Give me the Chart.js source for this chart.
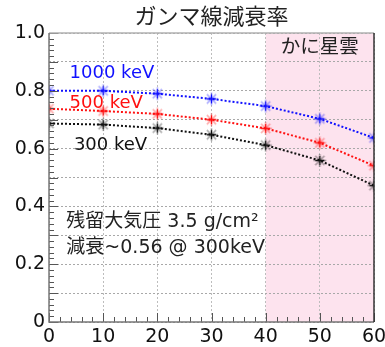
<!DOCTYPE html>
<html>
<head>
<meta charset="utf-8">
<script src="https://cdn.jsdelivr.net/npm/chart.js@4/dist/chart.umd.min.js"></script>
<style>
  html, body { margin: 0; padding: 0; background: #fff; }
  #wrap { width: 385px; height: 347px; }
</style>
</head>
<body>
<div id="wrap"><canvas id="c" width="385" height="347"></canvas></div>
<script>
// Residual-atmosphere depth along x and transmitted fraction per energy
const depths = [0, 10, 20, 30, 40, 50, 60];
const t1000 = [0.800, 0.800, 0.790, 0.772, 0.747, 0.703, 0.637];
const t500  = [0.738, 0.730, 0.720, 0.700, 0.670, 0.620, 0.541];
const t300  = [0.687, 0.683, 0.671, 0.648, 0.612, 0.559, 0.472];
const seriesLabels = ['1000 keV', '500 keV', '300 keV'];
const seriesColors = ['#1010ff', '#ff1010', '#111111'];
const bandRange = [40, 60];
const bandLabel = 'かに星雲';
const titleText = 'ガンマ線減衰率';
const noteLines = ['残留大気圧 3.5 g/cm²', '減衰~0.56 @ 300keV'];

const FONT = '"DejaVu Sans", "Noto Sans CJK JP", sans-serif';

function markerImage(color) {
  const c = document.createElement('canvas');
  c.width = 15; c.height = 15;
  const g = c.getContext('2d');
  g.translate(7.5, 7.5);
  g.strokeStyle = color;
  g.globalAlpha = 0.35;
  g.lineWidth = 1.6;
  for (let i = 0; i < 4; i++) {
    const a = i * Math.PI / 4;
    g.beginPath();
    g.moveTo(-6.5 * Math.cos(a), -6.5 * Math.sin(a));
    g.lineTo(6.5 * Math.cos(a), 6.5 * Math.sin(a));
    g.stroke();
  }
  g.globalAlpha = 1;
  g.lineWidth = 1.3;
  g.beginPath();
  g.moveTo(-4.5, 0); g.lineTo(4.5, 0);
  g.moveTo(0, -4.5); g.lineTo(0, 4.5);
  g.stroke();
  return c;
}

function makeSet(values, i) {
  return {
    label: seriesLabels[i],
    data: depths.map((x, k) => ({ x: x, y: values[k] })),
    borderColor: seriesColors[i],
    borderWidth: 2,
    borderDash: [2, 2],
    pointStyle: markerImage(seriesColors[i]),
    pointRadius: 7,
    fill: false,
    tension: 0
  };
}

// Shaded band behind the grid
const bandPlugin = {
  id: 'band',
  beforeDraw(chart) {
    const { ctx, chartArea, scales } = chart;
    const x0 = scales.x.getPixelForValue(bandRange[0]);
    const x1 = scales.x.getPixelForValue(bandRange[1]);
    ctx.save();
    ctx.fillStyle = '#fde3ee';
    ctx.fillRect(x0, chartArea.top, x1 - x0, chartArea.bottom - chartArea.top);
    ctx.restore();
  }
};

// Title, frame, inward ticks and text notes
const decorPlugin = {
  id: 'decor',
  afterDraw(chart) {
    const { ctx, chartArea: a, scales } = chart;
    const xs = scales.x, ys = scales.y;
    ctx.save();
    ctx.strokeStyle = '#555';
    ctx.lineWidth = 1;
    for (let v = 0; v <= 100; v += 2) {
      const y = Math.round(ys.getPixelForValue(v / 100)) + 0.5;
      const len = v % 10 === 0 ? 9 : 5;
      ctx.beginPath();
      ctx.moveTo(a.left, y); ctx.lineTo(a.left + len, y);
      ctx.stroke();
    }
    for (let v = 0; v <= 60; v += 2) {
      const x = Math.round(xs.getPixelForValue(v)) + 0.5;
      const len = v % 10 === 0 ? 9 : 5;
      ctx.beginPath();
      ctx.moveTo(x, a.bottom); ctx.lineTo(x, a.bottom - len);
      ctx.stroke();
    }
    // frame
    ctx.lineWidth = 1.5;
    ctx.strokeStyle = '#b0b0b0';
    ctx.beginPath();
    ctx.moveTo(a.left, a.top); ctx.lineTo(a.right, a.top);
    ctx.stroke();
    ctx.strokeStyle = '#777';
    ctx.beginPath();
    ctx.moveTo(a.left, a.top); ctx.lineTo(a.left, a.bottom); ctx.lineTo(a.right, a.bottom);
    ctx.stroke();
    ctx.strokeStyle = '#333';
    ctx.beginPath();
    ctx.moveTo(a.right, a.top); ctx.lineTo(a.right, a.bottom);
    ctx.stroke();

    // title centred over the plot area
    ctx.textBaseline = 'middle';
    ctx.textAlign = 'center';
    ctx.fillStyle = '#222';
    ctx.font = '22px ' + FONT;
    ctx.fillText(titleText, (a.left + a.right) / 2, 18);

    ctx.textAlign = 'left';
    const put = (txt, x, y, color) => {
      ctx.fillStyle = color;
      ctx.fillText(txt, xs.getPixelForValue(x), ys.getPixelForValue(y));
    };
    ctx.font = '18px ' + FONT;
    put(seriesLabels[0], 3.8, 0.862, seriesColors[0]);
    put(seriesLabels[1], 3.8, 0.755, seriesColors[1]);
    put(seriesLabels[2], 4.6, 0.612, seriesColors[2]);
    ctx.font = '19.5px ' + FONT;
    put(bandLabel, 42.8, 0.948, '#222');
    ctx.font = '19px ' + FONT;
    put(noteLines[0], 3.2, 0.345, '#222');
    put(noteLines[1], 3.2, 0.255, '#222');
    ctx.restore();
  }
};

new Chart(document.getElementById('c'), {
  type: 'line',
  data: { datasets: [makeSet(t1000, 0), makeSet(t500, 1), makeSet(t300, 2)] },
  options: {
    responsive: false,
    animation: false,
    layout: { padding: { left: 0, right: 11, top: 33, bottom: 0 } },
    plugins: {
      legend: { display: false },
      tooltip: { enabled: false },
      title: { display: false }
    },
    scales: {
      x: {
        type: 'linear',
        min: 0, max: 60,
        afterFit(s) { s.height = 25; s.paddingLeft = 0; s.paddingRight = 0; },
        grid: { color: '#bdbdbd', lineWidth: 1, drawTicks: false },
        border: { display: false, dash: [2, 2] },
        ticks: {
          stepSize: 10, color: '#111', padding: 4,
          font: { family: FONT, size: 19 },
          maxRotation: 0, autoSkip: false
        }
      },
      y: {
        min: 0, max: 1,
        afterFit(s) { s.width = 49; s.paddingTop = 0; s.paddingBottom = 0; },
        grid: { color: '#a8a8a8', lineWidth: 1, drawTicks: false },
        border: { display: false, dash: [2, 2] },
        ticks: {
          stepSize: 0.1, color: '#111', padding: 4, autoSkip: false,
          font: { family: FONT, size: 19 },
          callback(v) {
            const r = Math.round(v * 10);
            if (r % 2 !== 0) return '';
            if (r === 0) return '0';
            return (r / 10).toFixed(1);
          }
        }
      }
    }
  },
  plugins: [bandPlugin, decorPlugin]
});
</script>
</body>
</html>
